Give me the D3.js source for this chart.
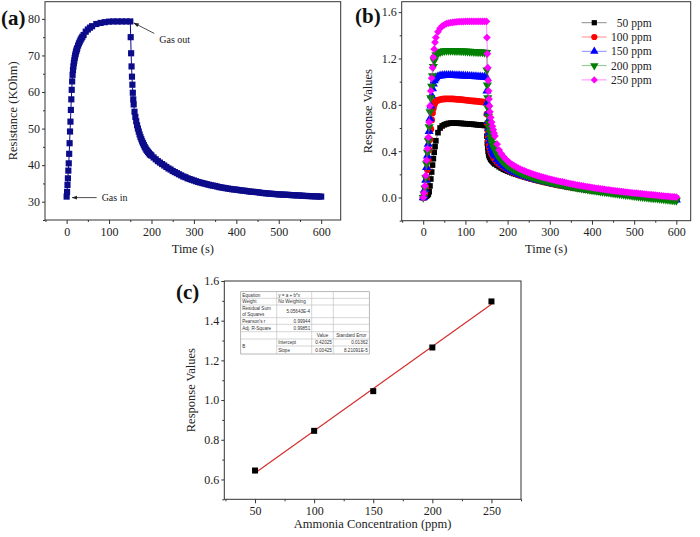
<!DOCTYPE html>
<html><head><meta charset="utf-8">
<script src="https://cdnjs.cloudflare.com/ajax/libs/d3/7.8.5/d3.min.js"></script>
<style>body{margin:0;background:#fff}svg{display:block}</style>
</head><body><svg id="c" width="700" height="537"></svg>
<script>
// ---------- DATA ----------
// Panel (a): resistance transient
const timeA = [0,1,2,3,4,5,6,7,8,9,10,11,12,13,14,15,16,17,18,19,20,21,22,23,24,25,
 27,29,31,33,35,37,40,45,50,55,60,
 70,80,90,100,110,120,130,140,150,
 151,152,153,154,155,156,157,158,
 160,162,164,166,168,170,172,174,176,178,180,182,184,186,188,190,192,194,196,198,200,
 205,210,215,220,225,230,235,240,245,250,
 255,260,265,270,275,280,285,290,295,300,
 305,310,315,320,325,330,335,340,345,350,
 355,360,365,370,375,380,385,390,395,400,
 405,410,415,420,425,430,435,440,445,450,
 455,460,465,470,475,480,485,490,495,500,
 505,510,515,520,525,530,535,540,545,550,
 555,560,565,570,575,580,585,590,595,600];
const resistanceA = [31.4,32.7,34.6,36.4,38.5,40.5,43.1,46.0,49.2,51.9,55.1,58.0,60.6,62.9,64.7,66.0,67.0,67.9,68.6,69.3,69.9,70.4,70.9,71.3,71.7,72.0,
 72.7,73.3,73.8,74.3,74.7,75.1,75.6,76.5,77.1,77.6,78.0,
 78.6,78.9,79.1,79.25,79.3,79.3,79.3,79.3,79.3,
 75.0,70.6,67.0,64.2,62.0,59.8,58.0,56.6,
 54.6,53.2,52.0,50.9,50.0,49.2,48.4,47.7,47.1,46.5,46.0,45.5,45.0,44.6,44.2,43.9,43.6,43.3,43.0,42.8,42.6,
 42.1,41.6,41.1,40.7,40.3,39.9,39.5,39.1,38.8,38.4,
 38.1,37.8,37.5,37.2,36.9,36.7,36.4,36.2,36.0,35.8,
 35.6,35.4,35.25,35.1,34.95,34.8,34.65,34.5,34.4,34.3,
 34.15,34.0,33.9,33.8,33.7,33.6,33.5,33.4,33.35,33.3,
 33.2,33.1,33.05,33.0,32.9,32.8,32.75,32.7,32.65,32.6,
 32.5,32.4,32.35,32.3,32.25,32.2,32.15,32.1,32.05,32.0,
 31.97,31.95,31.92,31.9,31.85,31.8,31.77,31.75,31.72,31.7,
 31.65,31.6,31.57,31.55,31.52,31.5,31.47,31.45,31.42,31.4];

// Panel (b): response transients
const timeB = [0,2,4,6,8,10,12,14,16,18,20,22,24,26,28,30,
 35,40,45,50,55,60,65,70,75,80,85,90,95,100,105,110,115,120,125,130,135,140,145,150,
 151,152,153,154,155,156,157,158,
 160,162,164,166,168,170,
 175,180,185,190,195,200,205,210,215,220,
 225,230,235,240,245,250,255,260,265,270,
 275,280,285,290,295,300,305,310,315,320,
 325,330,335,340,345,350,355,360,365,370,
 375,380,385,390,395,400,405,410,415,420,
 425,430,435,440,445,450,455,460,465,470,
 475,480,485,490,495,500,505,510,515,520,
 525,530,535,540,545,550,555,560,565,570,
 575,580,585,590,595,600];
const seriesNames = ["50 ppm","100 ppm","150 ppm","200 ppm","250 ppm"];
const resp50 = [0,0,0.005,0.01,0.015,0.02,0.03,0.05,0.10,0.16,0.22,0.28,0.335,0.39,0.44,0.49,
 0.56,0.60,0.618,0.628,0.635,0.64,0.642,0.643,0.643,0.642,0.641,0.64,0.638,0.637,0.636,0.634,0.633,0.631,0.629,0.627,0.626,0.624,0.622,0.62,
 0.53,0.47,0.43,0.40,0.38,0.365,0.355,0.345,
 0.33,0.322,0.314,0.306,0.298,0.29,
 0.278,0.266,0.255,0.244,0.236,0.228,0.221,0.214,0.207,0.201,
 0.195,0.189,0.183,0.178,0.173,0.168,0.163,0.158,0.153,0.149,
 0.144,0.14,0.136,0.132,0.128,0.124,0.12,0.117,0.113,0.11,
 0.106,0.103,0.1,0.097,0.094,0.091,0.088,0.085,0.082,0.079,
 0.077,0.074,0.071,0.069,0.066,0.064,0.061,0.059,0.057,0.055,
 0.052,0.05,0.048,0.046,0.044,0.042,0.04,0.038,0.036,0.034,
 0.032,0.031,0.029,0.027,0.025,0.024,0.022,0.02,0.018,0.017,
 0.015,0.014,0.012,0.011,0.009,0.008,0.006,0.005,0.003,0.002,
 0,-0.001,-0.003,-0.004,-0.006,-0.007];
const resp100 = [0,0.01,0.04,0.09,0.16,0.24,0.32,0.41,0.50,0.59,0.67,0.73,0.77,0.80,0.82,0.83,
 0.84,0.845,0.849,0.851,0.852,0.852,0.852,0.851,0.85,0.848,0.847,0.845,0.843,0.841,0.839,0.837,0.835,0.833,0.831,0.829,0.827,0.825,0.823,0.82,
 0.72,0.64,0.58,0.53,0.49,0.46,0.44,0.42,
 0.395,0.38,0.365,0.352,0.34,0.33,
 0.305,0.29,0.276,0.264,0.253,0.242,0.233,0.224,0.216,0.208,
 0.201,0.194,0.188,0.182,0.176,0.17,0.165,0.16,0.155,0.15,
 0.145,0.141,0.136,0.132,0.128,0.124,0.12,0.116,0.113,0.109,
 0.106,0.102,0.099,0.096,0.093,0.09,0.087,0.084,0.081,0.078,
 0.075,0.073,0.07,0.068,0.065,0.063,0.06,0.058,0.056,0.053,
 0.051,0.049,0.047,0.045,0.043,0.041,0.039,0.037,0.035,0.033,
 0.031,0.029,0.027,0.025,0.023,0.021,0.019,0.017,0.015,0.013,
 0.011,0.009,0.007,0.005,0.004,0.002,0,-0.002,-0.004,-0.005,
 -0.007,-0.009,-0.01,-0.012,-0.013,-0.015];
const resp150 = [0,0.02,0.07,0.15,0.26,0.36,0.46,0.57,0.68,0.79,0.88,0.94,0.98,1.01,1.025,1.035,
 1.045,1.05,1.053,1.055,1.056,1.056,1.056,1.055,1.054,1.053,1.052,1.051,1.05,1.049,1.048,1.047,1.046,1.045,1.044,1.043,1.042,1.041,1.039,1.037,
 0.92,0.82,0.73,0.66,0.60,0.555,0.52,0.49,
 0.45,0.425,0.405,0.39,0.375,0.36,
 0.33,0.31,0.293,0.278,0.264,0.252,0.241,0.231,0.222,0.214,
 0.206,0.199,0.192,0.186,0.18,0.174,0.168,0.163,0.158,0.153,
 0.148,0.143,0.139,0.135,0.13,0.126,0.122,0.118,0.115,0.111,
 0.107,0.104,0.1,0.097,0.094,0.09,0.087,0.084,0.081,0.078,
 0.075,0.072,0.07,0.067,0.064,0.062,0.059,0.057,0.054,0.052,
 0.049,0.047,0.045,0.042,0.04,0.038,0.036,0.033,0.031,0.029,
 0.027,0.025,0.023,0.021,0.019,0.017,0.015,0.013,0.011,0.009,
 0.007,0.005,0.003,0.001,-0.001,-0.003,-0.005,-0.007,-0.009,-0.011,
 -0.013,-0.015,-0.016,-0.018,-0.02,-0.021];
const resp200 = [0,0.03,0.08,0.17,0.29,0.39,0.49,0.61,0.74,0.86,0.96,1.05,1.13,1.18,1.21,1.23,
 1.245,1.255,1.262,1.266,1.268,1.268,1.268,1.268,1.267,1.267,1.266,1.265,1.264,1.263,1.262,1.261,1.26,1.259,1.258,1.257,1.256,1.255,1.253,1.25,
 1.10,0.97,0.86,0.77,0.70,0.64,0.60,0.565,
 0.52,0.49,0.465,0.445,0.425,0.41,
 0.37,0.345,0.325,0.307,0.29,0.275,0.263,0.252,0.242,0.233,
 0.224,0.216,0.208,0.201,0.194,0.188,0.182,0.176,0.17,0.165,
 0.16,0.155,0.15,0.145,0.141,0.136,0.132,0.128,0.124,0.12,
 0.116,0.112,0.108,0.104,0.101,0.097,0.094,0.09,0.087,0.084,
 0.081,0.078,0.075,0.072,0.069,0.066,0.063,0.06,0.058,0.055,
 0.052,0.05,0.047,0.045,0.042,0.04,0.037,0.035,0.032,0.03,
 0.028,0.025,0.023,0.021,0.018,0.016,0.014,0.012,0.009,0.007,
 0.005,0.003,0.001,-0.001,-0.003,-0.005,-0.007,-0.009,-0.011,-0.013,
 -0.015,-0.017,-0.019,-0.021,-0.023,-0.025];
const resp250 = [0,0.04,0.10,0.19,0.32,0.42,0.52,0.65,0.79,0.92,1.03,1.12,1.21,1.28,1.34,1.38,
 1.43,1.46,1.48,1.49,1.50,1.505,1.509,1.512,1.514,1.516,1.517,1.518,1.519,1.52,1.52,1.52,1.52,1.52,1.52,1.52,1.52,1.52,1.52,1.52,
 1.38,1.24,1.12,1.01,0.92,0.85,0.79,0.74,
 0.69,0.65,0.615,0.585,0.555,0.53,
 0.46,0.41,0.378,0.353,0.333,0.315,0.30,0.287,0.275,0.264,
 0.254,0.245,0.237,0.229,0.222,0.215,0.208,0.202,0.196,0.19,
 0.184,0.179,0.174,0.169,0.164,0.159,0.155,0.15,0.146,0.142,
 0.138,0.134,0.13,0.126,0.122,0.118,0.115,0.111,0.108,0.104,
 0.101,0.098,0.095,0.092,0.089,0.086,0.083,0.08,0.078,0.075,
 0.072,0.07,0.067,0.065,0.062,0.06,0.058,0.056,0.053,0.051,
 0.049,0.047,0.045,0.043,0.041,0.039,0.037,0.035,0.033,0.031,
 0.029,0.027,0.026,0.024,0.022,0.02,0.018,0.016,0.015,0.013,
 0.011,0.01,0.008,0.006,0.005,0.003];

// Panel (c): calibration
const concC = [50,100,150,200,250];
const respC = [0.645,0.845,1.045,1.265,1.497];
const fitIntercept = 0.42025, fitSlope = 0.00425;
const tableRows = [
 ["Equation","y = a + b*x","",""],
 ["Weight","No Weighting","",""],
 ["Residual Sum|of Squares","5.05643E-4","",""],
 ["Pearson's r","0.99944","",""],
 ["Adj. R-Square","0.99851","",""],
 ["","","Value","Standard Error"],
 ["B","Intercept","0.42025","0.01362"],
 ["","Slope","0.00425","8.21091E-5"]
];

// ---------- DRAW ----------
const svg = d3.select("#c");
const SERIF = '"Liberation Serif","Times New Roman",serif';
const SANS = '"Liberation Sans",Arial,sans-serif';

function panel(c){
  const g = svg.append("g");
  const x = d3.scaleLinear().domain(c.xd).range([c.l,c.r]);
  const y = d3.scaleLinear().domain(c.yd).range([c.b,c.t]);
  const ax = (sel)=>{ sel.select(".domain").remove();
    sel.selectAll("line").attr("stroke","#333");
    sel.selectAll("text").attr("font-family",SERIF).attr("font-size",12).attr("fill","#222"); };
  g.append("g").attr("transform",`translate(0,${c.b})`)
    .call(d3.axisBottom(x).tickValues(c.xt).tickSize(4).tickPadding(3).tickFormat(c.xf)).call(ax);
  g.append("g").attr("transform",`translate(0,${c.b})`)
    .call(d3.axisBottom(x).tickValues(c.xm).tickSize(2).tickFormat("")).call(ax);
  g.append("g").attr("transform",`translate(${c.l},0)`)
    .call(d3.axisLeft(y).tickValues(c.yt).tickSize(3).tickPadding(c.yp).tickFormat(c.yf)).call(ax);
  g.append("g").attr("transform",`translate(${c.l},0)`)
    .call(d3.axisLeft(y).tickValues(c.ym).tickSize(2).tickFormat("")).call(ax);
  g.append("rect").attr("x",c.l).attr("y",c.t).attr("width",c.r-c.l).attr("height",c.b-c.t)
    .attr("fill","none").attr("stroke","#333").attr("stroke-width",1);
  g.append("text").attr("x",(c.l+c.r)/2).attr("y",c.xty).attr("text-anchor","middle")
    .attr("font-family",SERIF).attr("font-size",12.5).attr("fill","#222").text(c.xlabel);
  g.append("text").attr("transform",`translate(${c.ytx},${(c.t+c.b)/2}) rotate(-90)`).attr("text-anchor","middle")
    .attr("font-family",SERIF).attr("font-size",12.5).attr("fill","#222").text(c.ylabel);
  g.append("text").attr("x",c.lx).attr("y",c.ly).attr("font-family",SERIF).attr("font-weight","bold")
    .attr("font-size",21).attr("fill","#111").text(c.letter);
  return {g,x,y};
}

// ----- Panel (a)
const A = panel({l:45,r:340.7,t:1.7,b:220,xd:[-51,646],yd:[25,84.7],
  xt:[0,100,200,300,400,500,600],xm:[-50,50,150,250,350,450,550],xf:d3.format("d"),
  yt:[30,40,50,60,70,80],ym:[25,35,45,55,65,75],yf:d3.format("d"),yp:2,
  xlabel:"Time (s)",xty:253,ylabel:"Resistance (KOhm)",ytx:17,letter:"(a)",lx:1,ly:25});
const navy = "#0c0c8a";
const ptsA = timeA.map((t,i)=>[t,resistanceA[i]]).filter(d=>d[1]!==undefined);
A.g.append("path").datum(ptsA).attr("fill","none").attr("stroke",navy).attr("stroke-width",1)
  .attr("d",d3.line().x(d=>A.x(d[0])).y(d=>A.y(d[1])));
A.g.selectAll("path.sq").data(ptsA).join("path").attr("class","sq")
  .attr("transform",d=>`translate(${A.x(d[0])},${A.y(d[1])})`)
  .attr("d",d3.symbol(d3.symbolSquare,38)).attr("fill",navy);
// annotations
const defs = svg.append("defs");
defs.append("marker").attr("id","arr").attr("viewBox","0 0 10 10").attr("refX",9).attr("refY",5)
  .attr("markerWidth",7).attr("markerHeight",7).attr("orient","auto-start-reverse")
  .append("path").attr("d","M0,1.5L10,5L0,8.5z").attr("fill","#222");
A.g.append("line").attr("x1",A.x(150)+24).attr("y1",A.y(79.3)+12).attr("x2",A.x(150)+3.5).attr("y2",A.y(79.3)+1.5)
  .attr("stroke","#222").attr("stroke-width",0.8).attr("marker-end","url(#arr)");
A.g.append("text").attr("x",A.x(150)+29).attr("y",A.y(79.3)+22).attr("font-family",SERIF).attr("font-size",10).attr("fill","#222").text("Gas out");
A.g.append("line").attr("x1",A.x(0)+30).attr("y1",A.y(31.4)+1).attr("x2",A.x(0)+5.5).attr("y2",A.y(31.4)+1)
  .attr("stroke","#222").attr("stroke-width",0.8).attr("marker-end","url(#arr)");
A.g.append("text").attr("x",A.x(0)+35).attr("y",A.y(31.4)+4.5).attr("font-family",SERIF).attr("font-size",10).attr("fill","#222").text("Gas in");

// ----- Panel (b)
const B = panel({l:401.7,r:690.7,t:1.7,b:220.7,xd:[-51,634],yd:[-0.2,1.69],
  xt:[0,100,200,300,400,500,600],xm:[-50,50,150,250,350,450,550],xf:d3.format("d"),
  yt:[0,0.4,0.8,1.2,1.6],ym:[-0.2,0.2,0.6,1.0,1.4],yf:d3.format(".1f"),yp:2,
  xlabel:"Time (s)",xty:253,ylabel:"Response Values",ytx:372,letter:"(b)",lx:355,ly:23});
const bSeries = [resp50,resp100,resp150,resp200,resp250];
const bColors = ["#000000","#ff0000","#0000ff","#008000","#ff00ff"];
const tri = d3.symbolTriangle;
const bSymbols = [
  {t:d3.symbolSquare,s:32,r:0},{t:d3.symbolCircle,s:36,r:0},{t:tri,s:36,r:0},{t:tri,s:36,r:180},{t:d3.symbolSquare,s:30,r:45}];
bSeries.forEach((vals,k)=>{
  const pts = timeB.map((t,i)=>[t,vals[i]]).filter(d=>d[1]!==undefined);
  const gg = B.g.append("g");
  gg.append("path").datum(pts).attr("fill","none").attr("stroke",bColors[k]).attr("stroke-width",0.8).attr("stroke-opacity",0.6)
    .attr("d",d3.line().x(d=>B.x(d[0])).y(d=>B.y(d[1])));
  gg.selectAll("path.m").data(pts).join("path").attr("class","m")
    .attr("transform",d=>`translate(${B.x(d[0])},${B.y(d[1])}) rotate(${bSymbols[k].r})`)
    .attr("d",d3.symbol(bSymbols[k].t,bSymbols[k].s)).attr("fill",bColors[k]);
});
// legend
const leg = B.g.append("g");
seriesNames.forEach((n,k)=>{
  const yy = 22.7 + k*14.3;
  leg.append("line").attr("x1",581.7).attr("x2",606.7).attr("y1",yy).attr("y2",yy)
    .attr("stroke",bColors[k]).attr("stroke-opacity",0.45).attr("stroke-width",1);
  leg.append("path").attr("transform",`translate(594.3,${yy}) rotate(${bSymbols[k].r})`)
    .attr("d",d3.symbol(bSymbols[k].t,bSymbols[k].s*0.85)).attr("fill",bColors[k]);
  leg.append("text").attr("x",651.7).attr("y",yy+4).attr("text-anchor","end")
    .attr("font-family",SERIF).attr("font-size",11.5).attr("fill","#222").text(n);
});

// ----- Panel (c)
const C = panel({l:224.3,r:521,t:281,b:499.3,xd:[24,275],yd:[0.5,1.6],
  xt:[50,100,150,200,250],xm:[25,75,125,175,225,275],xf:d3.format("d"),
  yt:[0.6,0.8,1.0,1.2,1.4,1.6],ym:[0.5,0.7,0.9,1.1,1.3,1.5],yf:d3.format(".1f"),yp:2,
  xlabel:"Ammonia Concentration (ppm)",xty:528,ylabel:"Response Values",ytx:195,letter:"(c)",lx:176,ly:299});
const fitX = [concC[0], concC[concC.length-1]];
C.g.append("line").attr("x1",C.x(fitX[0])).attr("y1",C.y(fitIntercept+fitSlope*fitX[0]))
  .attr("x2",C.x(fitX[1])).attr("y2",C.y(fitIntercept+fitSlope*fitX[1]))
  .attr("stroke","#d42a2a").attr("stroke-width",1.1);
C.g.selectAll("path.pt").data(concC).join("path").attr("class","pt")
  .attr("transform",(d,i)=>`translate(${C.x(d)},${C.y(respC[i])})`)
  .attr("d",d3.symbol(d3.symbolSquare,36)).attr("fill","#000");
// fit table
const colX = [240.7,276.7,311.7,333.3,369.3];
const rowY = [291.7,298.3,305,317.7,324.3,331.7,339,346,354];
const tg = C.g.append("g");
tg.append("rect").attr("x",colX[0]).attr("y",rowY[0]).attr("width",colX[4]-colX[0]).attr("height",rowY[8]-rowY[0])
  .attr("fill","#fff").attr("stroke","#999").attr("stroke-width",0.7);
rowY.slice(1,8).forEach((yy,i)=>{
  const x1 = (i===6) ? colX[1] : colX[0];
  tg.append("line").attr("x1",x1).attr("x2",colX[4]).attr("y1",yy).attr("y2",yy).attr("stroke","#bbb").attr("stroke-width",0.6);
});
colX.slice(1,4).forEach(xx=>{
  tg.append("line").attr("x1",xx).attr("x2",xx).attr("y1",rowY[0]).attr("y2",rowY[8]).attr("stroke","#bbb").attr("stroke-width",0.6);
});
tableRows.forEach((row,r)=>{
  row.forEach((cell,ci)=>{
    if(!cell) return;
    const top=rowY[r], bot=rowY[r+1];
    let cy = (top+bot)/2 + 1.6;
    if(r===6 && ci===0) cy = rowY[7] + 1.6;
    const lines = cell.split("|");
    const rightAlign = (r<5 && ci===1 && r>=2) || (r>=6 && ci>=2);
    const center = (r===5);
    let tx = colX[ci]+1.5, anchor="start";
    if(rightAlign){ tx = colX[ci+1]-1.5; anchor="end"; }
    if(center){ tx = (colX[ci]+colX[ci+1])/2; anchor="middle"; }
    lines.forEach((ln,li)=>{
      tg.append("text").attr("x",tx).attr("y",cy + (li - (lines.length-1)/2)*5.2)
        .attr("text-anchor",anchor).attr("font-family",SANS).attr("font-size",4.6).attr("fill","#333").text(ln);
    });
  });
});
</script></body></html>
